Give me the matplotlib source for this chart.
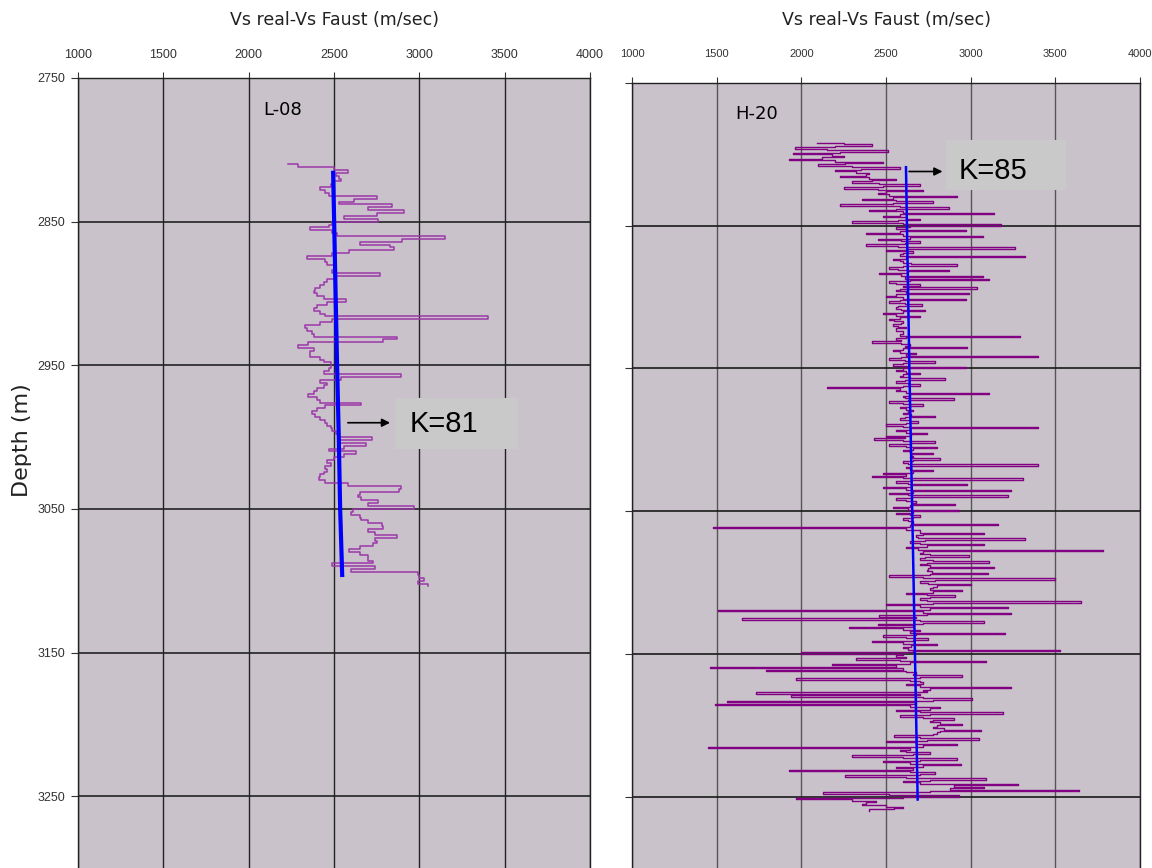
import numpy as np
import matplotlib
matplotlib.use('Agg')
import matplotlib.pyplot as plt
from matplotlib.patches import Rectangle

# ── L-08 log (2 m sampling) ────────────────────────────────
l08_depth = np.arange(2810, 3106, 2)
l08_vs = [
    2230, 2290, 2500, 2580, 2510, 2530, 2540, 2500, 2480, 2420,
    2450, 2470, 2750, 2620, 2530, 2840, 2700, 2910, 2750, 2560,
    2760, 2490, 2470, 2360, 2490, 2520, 3150, 2900, 2650, 2830,
    2850, 2590, 2490, 2340, 2450, 2460, 2500, 2500, 2490, 2770,
    2510, 2460, 2440, 2420, 2390, 2380, 2400, 2440, 2570, 2460,
    2400, 2380, 2420, 2450, 3400, 2490, 2420, 2330, 2340, 2370,
    2380, 2870, 2790, 2350, 2290, 2380, 2360, 2360, 2420, 2440,
    2480, 2480, 2470, 2440, 2890, 2540, 2420, 2460, 2440, 2400,
    2380, 2350, 2400, 2420, 2660, 2450, 2400, 2370, 2390, 2420,
    2450, 2460, 2480, 2490, 2510, 2530, 2720, 2530, 2690, 2560,
    2470, 2630, 2560, 2500, 2460, 2480, 2450, 2460, 2440, 2420,
    2410, 2450, 2580, 2890, 2880, 2650, 2640, 2660, 2760, 2700,
    2970, 2610, 2600, 2650, 2660, 2700, 2780, 2790, 2700, 2740,
    2870, 2740, 2750, 2730, 2650, 2590, 2650, 2700, 2700, 2730,
    2490, 2740, 2600, 2990, 3000, 3030, 2990, 3050,
]
l08_fit_depth = [2816, 2950, 3000, 3050, 3096]
l08_fit_vs = [2495, 2518, 2528, 2536, 2548]

# ── H-20 log (1 m sampling) ────────────────────────────────
h20_depth = np.arange(2792, 3261, 1)
h20_vs = [
    2090, 2250, 2420, 2200, 1960, 2150, 2510, 2230, 1950, 2180, 2250, 2120, 1930, 2200, 2480, 2260, 2100, 2300, 2580, 2350,
    2200, 2320, 2400, 2380, 2230, 2400, 2560, 2420, 2300, 2460, 2700, 2480, 2250, 2450, 2720, 2500, 2450, 2520, 2920, 2540,
    2360, 2560, 2780, 2540, 2230, 2580, 2870, 2560, 2400, 2600, 3140, 2580, 2480, 2620, 2700, 2570, 2300, 2600, 3180, 2640,
    2560, 2620, 2970, 2580, 2380, 2600, 3070, 2640, 2450, 2590, 2700, 2610, 2380, 2570, 3260, 2620, 2500, 2660, 2600, 2580,
    3320, 2620, 2540, 2580, 2600, 2650, 2920, 2600, 2520, 2570, 2870, 2630, 2460, 2590, 3070, 2610, 3110, 2640, 2520, 2560,
    2700, 2600, 3040, 2580, 2560, 2620, 2990, 2560, 2500, 2600, 2970, 2580, 2520, 2610, 2710, 2570, 2560, 2590, 2730, 2600,
    2480, 2560, 2700, 2580, 2520, 2550, 2600, 2590, 2540, 2570, 2620, 2560, 2560, 2600, 2600, 2580, 3290, 2620, 2560, 2590,
    2420, 2590, 2640, 2610, 2980, 2600, 2540, 2580, 2680, 2620, 3400, 2590, 2520, 2610, 2790, 2600, 2540, 2630, 2970, 2600,
    2560, 2620, 2700, 2600, 2580, 2640, 2850, 2610, 2560, 2630, 2700, 2600, 2150, 2580, 2560, 2620, 3110, 2640, 2600, 2610,
    2900, 2630, 2520, 2600, 2720, 2640, 2580, 2620, 2660, 2630, 2600, 2650, 2790, 2610, 2580, 2640, 2690, 2620, 2500, 2600,
    3400, 2640, 2560, 2620, 2740, 2650, 2500, 2610, 2430, 2600, 2790, 2640, 2520, 2620, 2800, 2660, 2600, 2640, 2780, 2650,
    2660, 2640, 2820, 2660, 2600, 2630, 3400, 2650, 2620, 2640, 2780, 2660, 2480, 2620, 2420, 2600, 3310, 2650, 2560, 2630,
    2980, 2650, 2480, 2620, 3240, 2660, 2520, 2630, 3220, 2650, 2560, 2620, 2680, 2660, 2910, 2640, 2540, 2630, 2930, 2660,
    2560, 2640, 2700, 2660, 2600, 2630, 2660, 2650, 3160, 2640, 1480, 2620, 2700, 2700, 3080, 2720, 2680, 2690, 3320, 2730,
    2640, 2700, 3080, 2740, 2620, 2690, 3780, 2720, 2700, 2760, 2990, 2730, 2700, 2780, 3110, 2740, 2700, 2760, 3140, 2750,
    2740, 2770, 3100, 2760, 2520, 2720, 3500, 2790, 2700, 2750, 3000, 2800, 2780, 2760, 2950, 2780, 2620, 2740, 2910, 2760,
    2700, 2740, 3650, 2780, 2500, 2700, 3220, 2760, 1510, 2720, 3240, 2740, 2460, 2680, 1650, 2700, 3080, 2720, 2450, 2660,
    2280, 2600, 2700, 2640, 3200, 2680, 2480, 2620, 2750, 2660, 2420, 2600, 2800, 2650, 2600, 2630, 3530, 2660, 2000, 2600,
    2560, 2620, 2320, 2580, 3090, 2640, 2180, 2560, 1460, 2600, 1790, 2620, 2680, 2660, 2950, 2700, 1970, 2640, 2700, 2720,
    2620, 2700, 3240, 2760, 2720, 2740, 1730, 2700, 1940, 2720, 3010, 2780, 1560, 2680, 1490, 2640, 2820, 2760, 2560, 2700,
    3190, 2760, 2580, 2720, 2900, 2780, 2760, 2820, 2950, 2800, 2780, 2840, 3060, 2820, 2800, 2780, 2550, 2700, 3050, 2740,
    2500, 2680, 2920, 2720, 1450, 2640, 2580, 2620, 2760, 2660, 2300, 2600, 2920, 2700, 2480, 2640, 2940, 2720, 2560, 2660,
    1930, 2640, 2790, 2700, 2260, 2620, 3090, 2760, 2600, 2700, 3280, 2900, 3080, 2880, 3640, 2760, 2130, 2520, 2930, 2600,
    1970, 2300, 2440, 2380, 2360, 2500, 2600, 2550, 2400,
]
h20_fit_depth = [2809, 2950, 3050, 3150, 3252]
h20_fit_vs = [2618, 2638, 2655, 2671, 2687]

x_ticks = [1000, 1500, 2000, 2500, 3000, 3500, 4000]
y_ticks = [2750, 2850, 2950, 3050, 3150, 3250]

# ── Style ──────────────────────────────────────────────────
PANEL_BG = '#C9C2CA'
BOX_BG = '#C9C9C9'
ARIAL = ['Liberation Sans', 'DejaVu Sans']

fig = plt.figure(figsize=(11.52, 8.68), dpi=100, facecolor='white')
ax1 = fig.add_axes([78 / 1152, 0.0, 512 / 1152, 1 - 78 / 868])
ax2 = fig.add_axes([632 / 1152, 0.0, 508 / 1152, 1 - 83 / 868])


def setup(ax, vgrid, hgrid, tick_size, tick_pad, show_ylabels):
    ax.set_facecolor(PANEL_BG)
    ax.set_xlim(1000, 4000)
    ax.set_ylim(3300, 2750)
    ax.xaxis.tick_top()
    ax.set_xticks(x_ticks)
    ax.set_yticks(y_ticks)
    ax.set_xticklabels([str(v) for v in x_ticks], family=ARIAL, fontsize=tick_size)
    ax.set_yticklabels([str(v) for v in y_ticks], family=ARIAL, fontsize=9)
    ax.tick_params(axis='x', length=4, pad=tick_pad, colors='#333333', width=0.8)
    ax.tick_params(axis='y', length=5, pad=4, colors='#333333', width=0.8,
                   labelleft=show_ylabels)
    for v in x_ticks:
        ax.axvline(v, color=vgrid, lw=1.0, zorder=1)
    for d in y_ticks:
        ax.axhline(d, color=hgrid, lw=1.2, zorder=1)
    ax.spines['bottom'].set_visible(False)
    for s in ('top', 'left', 'right'):
        ax.spines[s].set_color('#222222')
        ax.spines[s].set_linewidth(1.0)


setup(ax1, '#222222', '#222222', 9, 8, True)
setup(ax2, '#555555', '#1A1A1A', 8, 13, False)

# ── L-08 ───────────────────────────────────────────────────
ax1.plot(l08_vs, l08_depth, drawstyle='steps-post', color='#9C38AA', lw=1.1, zorder=3)
ax1.plot(l08_fit_vs, l08_fit_depth, color='#0000FF', lw=3.0, zorder=4)
ax1.text(2200, 2772, 'L-08', fontsize=13, ha='center', va='center')
ax1.add_patch(Rectangle((2858, 2973), 720, 35, facecolor=BOX_BG, edgecolor='none', zorder=5))
ax1.text(2946, 2991, 'K=81', family=ARIAL, fontsize=21, ha='left', va='center', zorder=6)
ax1.annotate('', xy=(2845, 2990), xytext=(2565, 2990), zorder=6,
             arrowprops=dict(arrowstyle='-|>', color='black', lw=1.2, mutation_scale=12))

# ── H-20 ───────────────────────────────────────────────────
ax2.plot(h20_vs, h20_depth, drawstyle='steps-post', color='#820082', lw=1.0, zorder=3)
ax2.plot(h20_fit_vs, h20_fit_depth, color='#0000FF', lw=1.8, zorder=4)
ax2.text(1738, 2772, 'H-20', fontsize=13, ha='center', va='center')
ax2.add_patch(Rectangle((2854, 2790), 708, 35, facecolor=BOX_BG, edgecolor='none', zorder=5))
ax2.text(2931, 2812, 'K=85', family=ARIAL, fontsize=21, ha='left', va='center', zorder=6)
ax2.annotate('', xy=(2850, 2812), xytext=(2620, 2812), zorder=6,
             arrowprops=dict(arrowstyle='-|>', color='black', lw=1.2, mutation_scale=12))

# ── Titles ─────────────────────────────────────────────────
for cx in (334, 886):
    fig.text(cx / 1152, 1 - 20 / 868, 'Vs real-Vs Faust (m/sec)', fontsize=12.5,
             ha='center', va='center', color='#222222')
fig.text(22 / 1152, 1 - 440 / 868, 'Depth (m)', fontsize=16, rotation=90,
         ha='center', va='center', color='#222222')

plt.savefig('out.png', dpi=100, facecolor='white')
